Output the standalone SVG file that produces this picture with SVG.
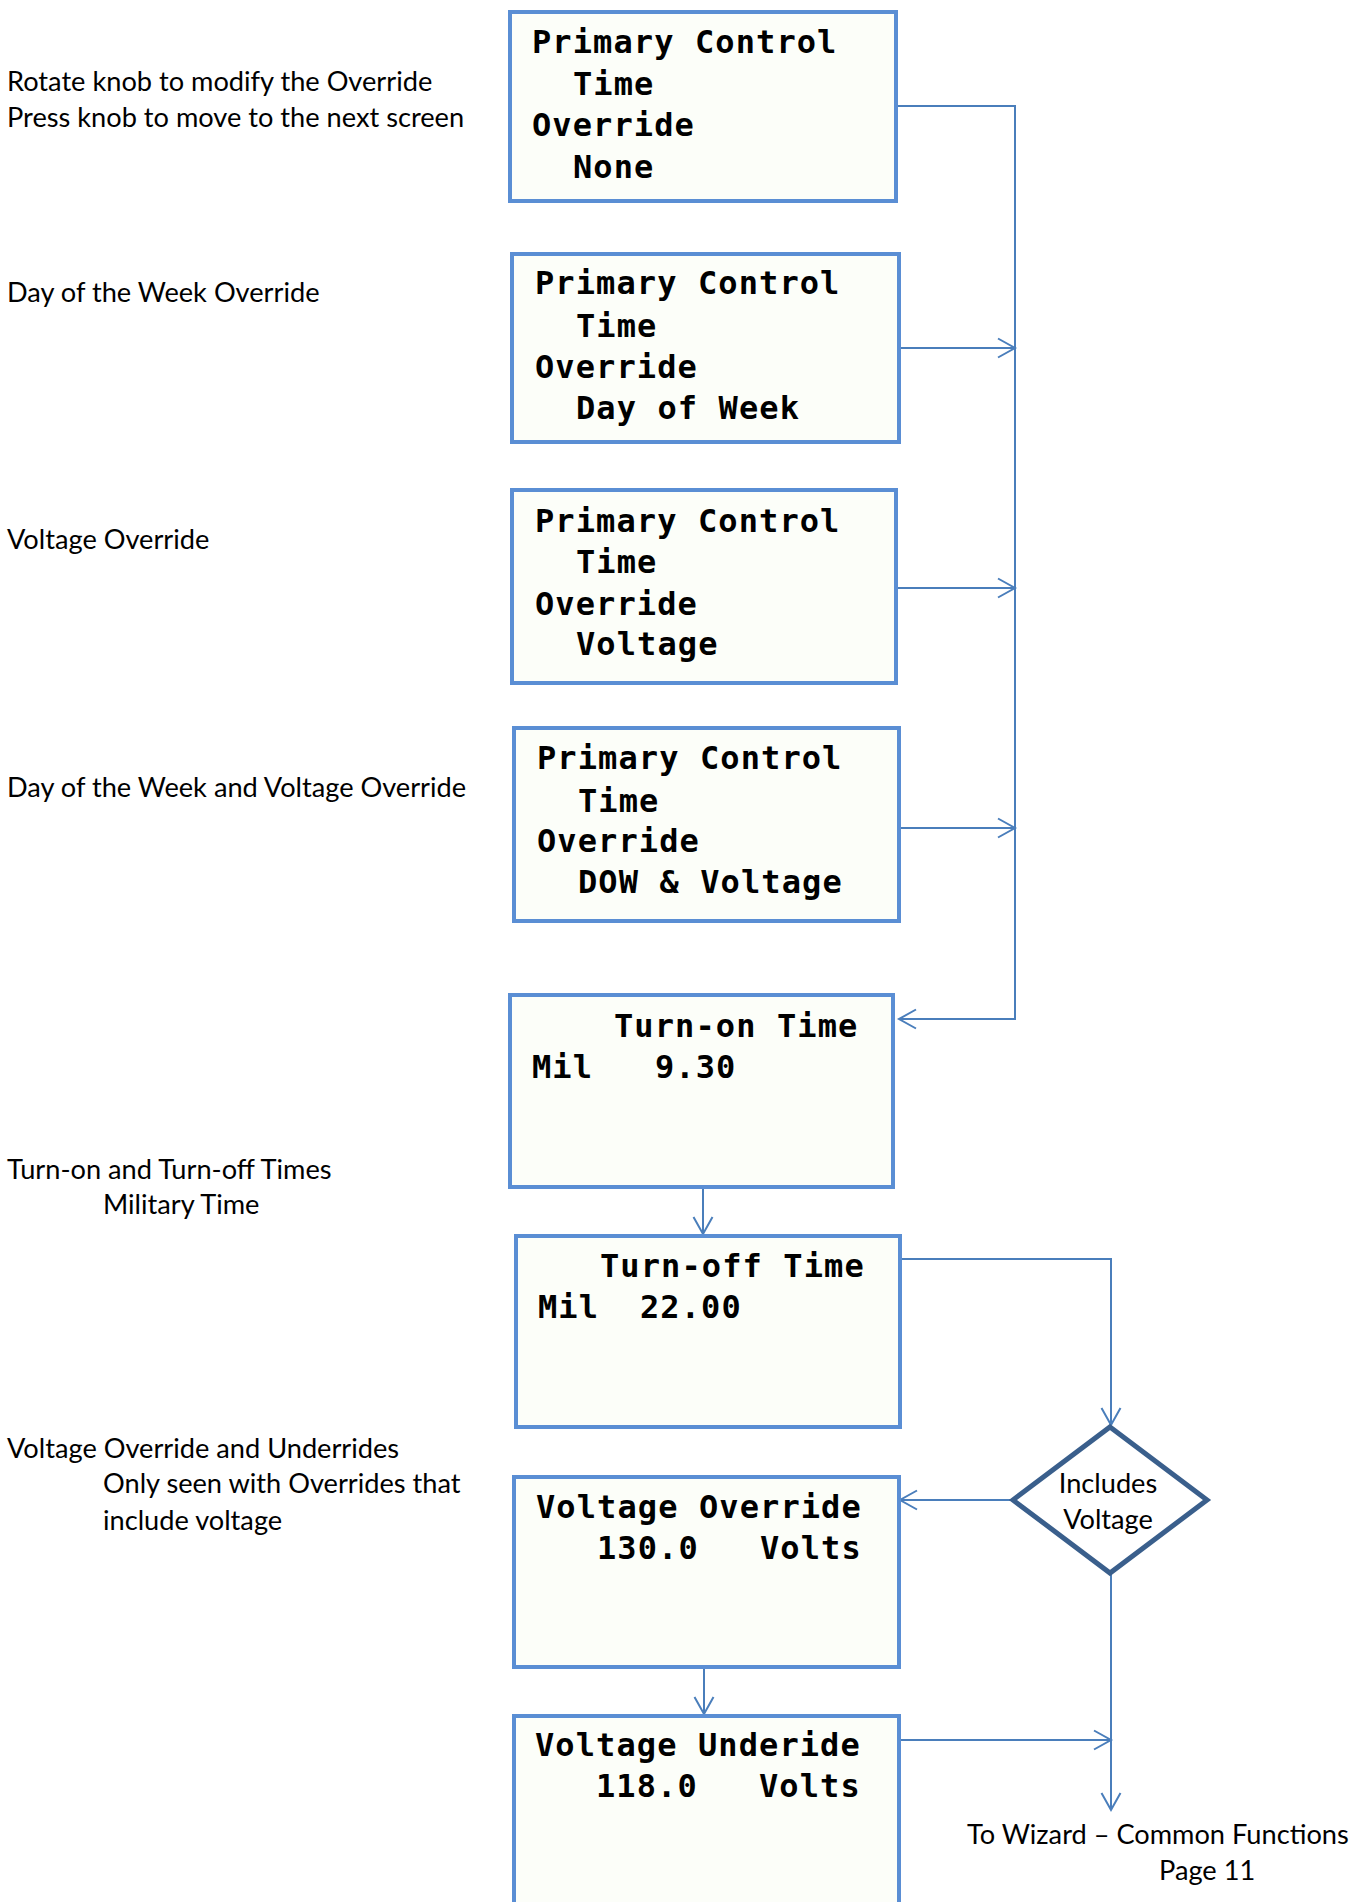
<svg xmlns="http://www.w3.org/2000/svg" width="1359" height="1902" viewBox="0 0 1359 1902">
<style>
.box{fill:#FCFEF9;stroke:#5A8ED4;stroke-width:4}
.lcd{font-family:"DejaVu Sans Mono",monospace;font-weight:bold;font-size:32px;letter-spacing:1.1px;fill:#000}
.lbl{font-family:Lato,"Liberation Sans",sans-serif;font-size:27.2px;fill:#000}
.con{fill:none;stroke:#4A7EBB;stroke-width:2}
.dia{fill:#fff;stroke:#3A5F8C;stroke-width:5;stroke-linejoin:miter}
</style>
<defs>
<marker id="arr" markerUnits="userSpaceOnUse" markerWidth="22" markerHeight="24" refX="18" refY="11" orient="auto" overflow="visible">
<path d="M1,1.5 L18,11 L1,20.5" fill="none" stroke="#4A7EBB" stroke-width="2"/>
</marker>
</defs>
<rect width="1359" height="1902" fill="#fff"/>

<g id="labels">
<text class="lbl" x="7" y="91">Rotate knob to modify the Override</text>
<text class="lbl" x="7" y="127">Press knob to move to the next screen</text>
<text class="lbl" x="7" y="302">Day of the Week Override</text>
<text class="lbl" x="7" y="549">Voltage Override</text>
<text class="lbl" x="7" y="797">Day of the Week and Voltage Override</text>
<text class="lbl" x="7" y="1179">Turn-on and Turn-off Times</text>
<text class="lbl" x="103" y="1214">Military Time</text>
<text class="lbl" x="7" y="1458">Voltage Override and Underrides</text>
<text class="lbl" x="103" y="1493">Only seen with Overrides that</text>
<text class="lbl" x="103" y="1530">include voltage</text>
<text class="lbl" x="967" y="1844">To Wizard – Common Functions</text>
<text class="lbl" x="1159" y="1880">Page 11</text>
</g>

<g id="connectors">
<polyline class="con" points="896,106 1015,106 1015,1019 899,1019" marker-end="url(#arr)"/>
<line class="con" x1="899" y1="348" x2="1015" y2="348" marker-end="url(#arr)"/>
<line class="con" x1="896" y1="588" x2="1015" y2="588" marker-end="url(#arr)"/>
<line class="con" x1="899" y1="828" x2="1015" y2="828" marker-end="url(#arr)"/>
<line class="con" x1="703" y1="1187" x2="703" y2="1234" marker-end="url(#arr)"/>
<polyline class="con" points="900,1259 1111,1259 1111,1425" marker-end="url(#arr)"/>
<line class="con" x1="1013" y1="1500" x2="900" y2="1500" marker-end="url(#arr)"/>
<line class="con" x1="704" y1="1667" x2="704" y2="1714" marker-end="url(#arr)"/>
<line class="con" x1="899" y1="1740" x2="1111" y2="1740" marker-end="url(#arr)"/>
<line class="con" x1="1111" y1="1573" x2="1111" y2="1810" marker-end="url(#arr)"/>
</g>

<g id="n1">
<rect class="box" x="510" y="12" width="386" height="189"/>
<text class="lcd" x="532" y="53">Primary Control</text>
<text class="lcd" x="573" y="95">Time</text>
<text class="lcd" x="532" y="136">Override</text>
<text class="lcd" x="573" y="178">None</text>
</g>
<g id="n2">
<rect class="box" x="512" y="254" width="387" height="188"/>
<text class="lcd" x="535" y="294">Primary Control</text>
<text class="lcd" x="576" y="337">Time</text>
<text class="lcd" x="535" y="378">Override</text>
<text class="lcd" x="576" y="419">Day of Week</text>
</g>
<g id="n3">
<rect class="box" x="512" y="490" width="384" height="193"/>
<text class="lcd" x="535" y="532">Primary Control</text>
<text class="lcd" x="576" y="573">Time</text>
<text class="lcd" x="535" y="615">Override</text>
<text class="lcd" x="576" y="655">Voltage</text>
</g>
<g id="n4">
<rect class="box" x="514" y="728" width="385" height="193"/>
<text class="lcd" x="537" y="769">Primary Control</text>
<text class="lcd" x="578" y="812">Time</text>
<text class="lcd" x="537" y="852">Override</text>
<text class="lcd" x="578" y="893">DOW &amp; Voltage</text>
</g>
<g id="n5">
<rect class="box" x="510" y="995" width="383" height="192"/>
<text class="lcd" x="614" y="1037">Turn-on Time</text>
<text class="lcd" x="532" y="1078">Mil</text>
<text class="lcd" x="655" y="1078">9.30</text>
</g>
<g id="n6">
<rect class="box" x="516" y="1236" width="384" height="191"/>
<text class="lcd" x="600" y="1277">Turn-off Time</text>
<text class="lcd" x="538" y="1318">Mil</text>
<text class="lcd" x="640" y="1318">22.00</text>
</g>
<g id="n7">
<rect class="box" x="514" y="1477" width="385" height="190"/>
<text class="lcd" x="536" y="1518">Voltage Override</text>
<text class="lcd" x="597" y="1559">130.0</text>
<text class="lcd" x="760" y="1559">Volts</text>
</g>
<g id="n8">
<rect class="box" x="514" y="1716" width="385" height="200"/>
<text class="lcd" x="535" y="1756">Voltage Underide</text>
<text class="lcd" x="596" y="1797">118.0</text>
<text class="lcd" x="759" y="1797">Volts</text>
</g>
<g id="decision">
<polygon class="dia" points="1110,1427 1207,1500 1110,1573 1013,1500"/>
<text class="lbl" x="1108" y="1493" text-anchor="middle">Includes</text>
<text class="lbl" x="1108" y="1529" text-anchor="middle">Voltage</text>
</g>
</svg>
